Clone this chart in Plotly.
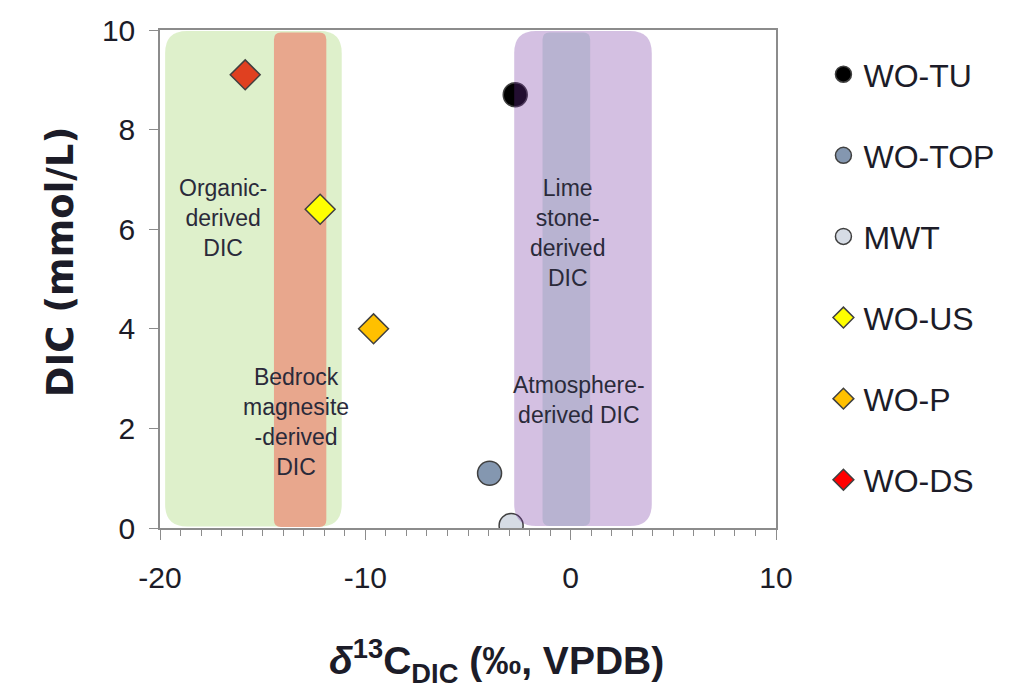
import plotly.graph_objects as go

# ---- data ----
series_names = ["WO-TU", "WO-TOP", "MWT", "WO-US", "WO-P", "WO-DS"]
d13c_values = [-2.7, -3.95, -2.9, -12.2, -9.6, -15.85]
dic_values = [8.7, 1.1, 0.05, 6.4, 4.0, 9.1]
marker_symbols = ["circle", "circle", "circle", "diamond", "diamond", "diamond"]
legend_colors = ["#000000", "#8497b0", "#d6dce5", "#ffff00", "#ffc000", "#ff0000"]
plot_colors = ["#000000", "#8497b0", "#d6dce5", "#ffff00", "#ffc000", "#e04020"]

x_ticks = [-20, -10, 0, 10]
x_tick_labels = ["-20", "-10", "0", "10"]
y_ticks = [0, 2, 4, 6, 8, 10]

# source regions: [x0, x1, y0, y1] in data units
organic_region = [-19.75, -11.15, 0.03, 9.98]
magnesite_region = [-14.45, -11.9, 0.02, 9.95]
limestone_region = [-2.75, 3.95, 0.04, 9.98]
atmosphere_region = [-1.37, 0.95, 0.04, 9.95]

region_labels = ["Organic-<br>derived<br>DIC", "Bedrock<br>magnesite<br>-derived<br>DIC",
                 "Lime<br>stone-<br>derived<br>DIC", "Atmosphere-<br>derived DIC"]
region_label_x = [-16.95, -13.37, -0.16, 0.42]
region_label_y = [6.22, 2.13, 5.92, 2.57]

FONT = "Liberation Sans"
TXT = "#1c1c28"

fig = go.Figure()

for name, xv, yv, sym, col in zip(series_names, d13c_values, dic_values, marker_symbols, plot_colors):
    fig.add_trace(go.Scatter(
        x=[xv], y=[yv], mode="markers", name=name, showlegend=False,
        marker=dict(symbol=sym, size=24 if sym == "circle" else 23, color=col,
                    line=dict(color="#404040", width=1.5)),
    ))

for name, sym, col in zip(series_names, marker_symbols, legend_colors):
    fig.add_trace(go.Scatter(
        x=[None], y=[None], mode="markers", name=name, legendgroup=name,
        marker=dict(symbol=sym, size=24, color=col, line=dict(color="#404040", width=1.5)),
    ))


def rounded(x0, x1, y0, y1, rpx):
    rx = rpx / 20.67
    ry = rpx / 49.8
    return (f"M {x0+rx},{y0} L {x1-rx},{y0} Q {x1},{y0} {x1},{y0+ry} "
            f"L {x1},{y1-ry} Q {x1},{y1} {x1-rx},{y1} L {x0+rx},{y1} "
            f"Q {x0},{y1} {x0},{y1-ry} L {x0},{y0+ry} Q {x0},{y0} {x0+rx},{y0} Z")


shapes = [
    dict(type="path", path=rounded(*organic_region, 22), xref="x", yref="y",
         fillcolor="rgb(222,240,203)", line=dict(width=0), layer="below"),
    dict(type="path", path=rounded(*magnesite_region, 7), xref="x", yref="y",
         fillcolor="rgb(232,167,141)", line=dict(width=0), layer="below"),
    dict(type="path", path=rounded(*limestone_region, 22), xref="x", yref="y",
         fillcolor="rgb(112,48,160)", opacity=0.3, line=dict(width=0), layer="above"),
    dict(type="path", path=rounded(*atmosphere_region, 7), xref="x", yref="y",
         fillcolor="rgb(120,150,168)", opacity=0.3, line=dict(width=0), layer="above"),
]

annotations = []
for t, xv, yv in zip(region_labels, region_label_x, region_label_y):
    annotations.append(dict(x=xv, y=yv, xref="x", yref="y", text=t, showarrow=False,
                            font=dict(family=FONT, size=23, color="#2a2a3a"), align="center"))

annotations.append(dict(
    x=(499 - 160) / 620, y=-0.268, xref="paper", yref="paper", yanchor="middle",
    text="<b><i>δ</i><sup>13</sup>C<sub>DIC</sub> (‰, VPDB)</b>", showarrow=False,
    font=dict(family=FONT, size=39, color=TXT)))
annotations.append(dict(
    x=-0.2, y=(528 - 262) / 498, xref="paper", yref="paper", textangle=-90,
    text="<b>DIC (mmol/L)</b>", showarrow=False,
    font=dict(family="DejaVu Sans", size=37, color=TXT)))

fig.update_layout(
    width=1011, height=690,
    margin=dict(l=160, r=231, t=30, b=162),
    paper_bgcolor="white", plot_bgcolor="white",
    shapes=shapes, annotations=annotations,
    showlegend=True,
    legend=dict(x=1.077, xanchor="left", y=0.966, yanchor="top",
                font=dict(family=FONT, size=32, color=TXT), maxheight=690,
                tracegroupgap=36.5, bgcolor="rgba(0,0,0,0)", itemsizing="trace"),
    xaxis=dict(range=[-20, 10], tickvals=x_ticks, ticktext=x_tick_labels, ticks="outside",
               ticklen=10, tickwidth=1.3,
               tickcolor="#8c8c8c", showline=True, linecolor="#8c8c8c", linewidth=1.5,
               mirror=True, showgrid=False, zeroline=False,
               minor=dict(dtick=1, ticks="outside", ticklen=6, tickcolor="#8c8c8c", tickwidth=1.3,
                          showgrid=False),
               tickfont=dict(family=FONT, size=30, color=TXT), ticklabelstandoff=12),
    yaxis=dict(range=[0, 10], tickvals=y_ticks, ticks="outside", ticklen=9, tickwidth=1.3,
               tickcolor="#8c8c8c", showline=True, linecolor="#8c8c8c", linewidth=1.5,
               mirror=True, showgrid=False, zeroline=False,
               tickfont=dict(family=FONT, size=30, color=TXT), ticklabelstandoff=8),
)

fig.write_html("out.html")
